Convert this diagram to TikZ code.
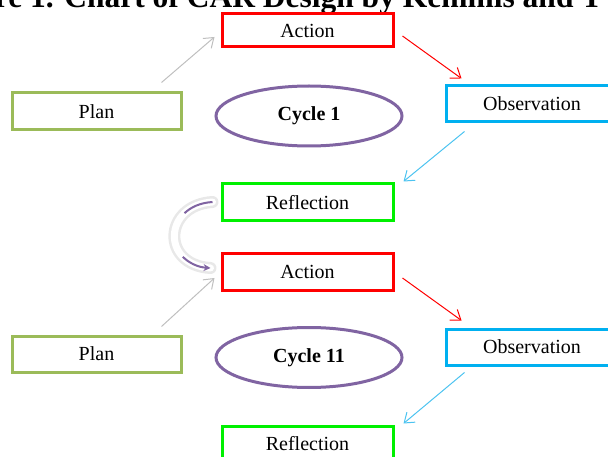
\documentclass[tikz,border=0pt]{standalone}
\usepackage{fontspec}
\setmainfont{Liberation Serif}
\usetikzlibrary{arrows.meta,shapes.geometric}

\definecolor{actred}{HTML}{FF0000}
\definecolor{planolive}{HTML}{9BBB59}
\definecolor{obsblue}{HTML}{00B0F0}
\definecolor{refgreen}{HTML}{00F000}
\definecolor{cycpurple}{HTML}{8064A2}
\definecolor{arrgray}{HTML}{BFBFBF}
\definecolor{arrblue}{HTML}{4CC3F0}

\tikzset{
  box/.style={draw, line width=3pt, minimum width=171pt, minimum height=36pt,
    inner sep=0pt, font=\fontsize{20}{24}\selectfont},
  cycle/.style={draw=cycpurple, ellipse, line width=3pt, minimum width=186pt,
    minimum height=60pt, inner sep=0pt, font=\fontsize{20}{24}\selectfont\bfseries},
  link/.style={line width=1pt, -{Straight Barb[length=9pt,width=13pt,line width=1pt]}}
}

\begin{document}
\begin{tikzpicture}[x=1pt,y=-1pt]

	\clip (0,0) rectangle (608,457);
	\useasboundingbox (0,0) rectangle (608,457);

	\node[anchor=base west, inner sep=0pt, font=\fontsize{31.5}{34}\selectfont\bfseries] (title) at (-5.3,7.5) {re 1. Chart of CAR Design by Kemmis and T};

	% cycle 1
	\node[box, draw=actred, minimum height=33pt] (act1) at (307.5,30.5) {Action};
	\node[box, draw=planolive, minimum width=169pt, minimum height=37pt] (plan1) at (96.5,111.5) {Plan};
	\node[cycle] (cyc1) at (309,116) {Cycle 1};
	\node[box, draw=obsblue, minimum width=172pt] (obs1) at (532,104) {Observation};
	\node[box, draw=refgreen, minimum height=37pt] (ref1) at (307.5,202.5) {Reflection};

	% cycle 11
	\node[box, draw=actred] (act2) at (307.5,272) {Action};
	\node[box, draw=planolive, minimum width=169pt] (plan2) at (96.5,354) {Plan};
	\node[cycle] (cyc2) at (309,357.5) {Cycle 11};
	\node[box, draw=obsblue, minimum width=172pt] (obs2) at (532,347) {Observation};
	\node[box, draw=refgreen] (ref2) at (307.5,444) {Reflection};

	\draw[link, arrgray] ([shift={(-21,-9)}]plan1.north east) -- ([shift={(-6,6.5)}]act1.west);
	\draw[link, actred] ([shift={(8,5.5)}]act1.east) -- ([shift={(17,-6)}]obs1.north west);
	\draw[link, arrblue] ([shift={(20,8)}]obs1.south west) -- ([shift={(9,-1)}]ref1.north east);

	\draw[link, arrgray] ([shift={(-21,-8)}]plan2.north east) -- ([shift={(-6,6)}]act2.west);
	\draw[link, actred] ([shift={(8,6)}]act2.east) -- ([shift={(17,-7)}]obs2.north west);
	\draw[link, arrblue] ([shift={(20,6)}]obs2.south west) -- ([shift={(9,-1)}]ref2.north east);

	% curved arrow from reflection to the next action
	\draw[gray!18, line width=12pt, line cap=round] ([shift={(-8,-0.5)}]ref1.west)
		.. controls +(-49,3) and +(-50,-3) .. ([shift={(-10,-4)}]act2.west);
	\draw[white, line width=7pt, line cap=round] ([shift={(-8,-0.5)}]ref1.west)
		.. controls +(-49,3) and +(-50,-3) .. ([shift={(-10,-4)}]act2.west);
	\draw[cycpurple, line width=2pt] ([shift={(-8,-0.5)}]ref1.west)
		.. controls +(-12.25,0.75) and +(6.4,-6.1) .. ([shift={(-36,10.7)}]ref1.west);
	\draw[cycpurple, line width=2pt, -{Stealth[length=7pt,width=7pt]}] ([shift={(-37.7,-15.2)}]act2.west)
		.. controls +(6,6.1) and +(-12.5,-0.75) .. ([shift={(-10,-4)}]act2.west);

\end{tikzpicture}
\end{document}
